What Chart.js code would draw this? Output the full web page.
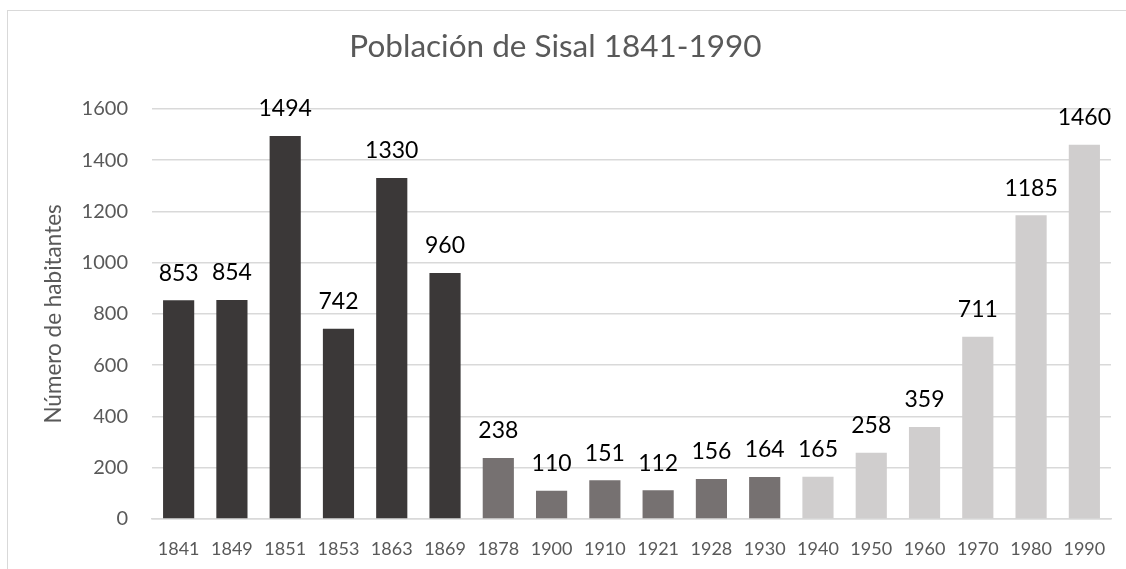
<!DOCTYPE html>
<html>
<head>
<meta charset="utf-8">
<style>
  html, body { margin: 0; padding: 0; background: #fff; }
  #wrap { position: absolute; left: 0; top: 0; width: 1126px; height: 569px; overflow: hidden; }
  #frame { position: absolute; left: 7px; top: 10px; width: 1130px; height: 580px; border: 1.5px solid #d9d9d9; box-sizing: border-box; }
  canvas { position: absolute; left: 0; top: 0; }
</style>
<script src="https://cdn.jsdelivr.net/npm/chart.js@4"></script>
</head>
<body>
<div id="wrap">
  <div id="frame"></div>
  <canvas id="c" width="1126" height="569"></canvas>
</div>
<script>
const years = ["1841","1849","1851","1853","1863","1869","1878","1900","1910","1921","1928","1930","1940","1950","1960","1970","1980","1990"];
const population = [853,854,1494,742,1330,960,238,110,151,112,156,164,165,258,359,711,1185,1460];
const periodColors = ["#3b3838","#3b3838","#3b3838","#3b3838","#3b3838","#3b3838","#767171","#767171","#767171","#767171","#767171","#767171","#d0cece","#d0cece","#d0cece","#d0cece","#d0cece","#d0cece"];
const yTicks = [0,200,400,600,800,1000,1200,1400,1600];

const FONT = "Lato, 'Open Sans', sans-serif";

const valueLabels = {
  id: 'valueLabels',
  afterDatasetsDraw(chart) {
    const ctx = chart.ctx;
    const meta = chart.getDatasetMeta(0);
    ctx.save();
    ctx.font = "23px " + FONT;
    ctx.fillStyle = "#000000";
    ctx.textAlign = "center";
    ctx.textBaseline = "middle";
    meta.data.forEach((bar, i) => {
      ctx.fillText(String(chart.data.datasets[0].data[i]), bar.x, bar.y - 27);
    });
    ctx.restore();
  }
};

new Chart(document.getElementById('c'), {
  type: 'bar',
  data: {
    labels: years,
    datasets: [{
      data: population,
      backgroundColor: periodColors,
      borderWidth: 0,
      categoryPercentage: 1.0,
      barPercentage: 0.585
    }]
  },
  options: {
    responsive: false,
    animation: false,
    devicePixelRatio: 1,
    layout: { padding: { left: 0, right: 15, top: 0, bottom: 0 } },
    plugins: {
      legend: { display: false },
      tooltip: { enabled: false },
      title: {
        display: true,
        text: "Población de Sisal 1841-1990",
        color: "#595959",
        font: { family: FONT, size: 31.5, weight: 'normal' },
        padding: { top: 28, bottom: 43 }
      }
    },
    scales: {
      x: {
        grid: { display: false, drawTicks: false },
        border: { display: true, color: "#d9d9d9", width: 1.5 },
        ticks: { color: "#595959", font: { family: FONT, size: 18 }, padding: 19, maxRotation: 0, autoSkip: false },
        afterFit(scale) { scale.height = 50; }
      },
      y: {
        min: 0, max: 1600,
        afterBuildTicks(scale) { scale.ticks = yTicks.map(v => ({ value: v })); },
        grid: { color: "#d9d9d9", lineWidth: 1.5, drawTicks: false },
        border: { display: false },
        ticks: { color: "#595959", font: { family: FONT, size: 20 }, padding: 24, callback: (v) => String(v) },
        title: {
          display: true,
          text: "Número de habitantes",
          color: "#595959",
          font: { family: FONT, size: 22.5 },
          padding: { top: 40, bottom: 0 }
        },
        afterFit(scale) { scale.width = 152; }
      }
    }
  },
  plugins: [valueLabels]
});
</script>
</body>
</html>
